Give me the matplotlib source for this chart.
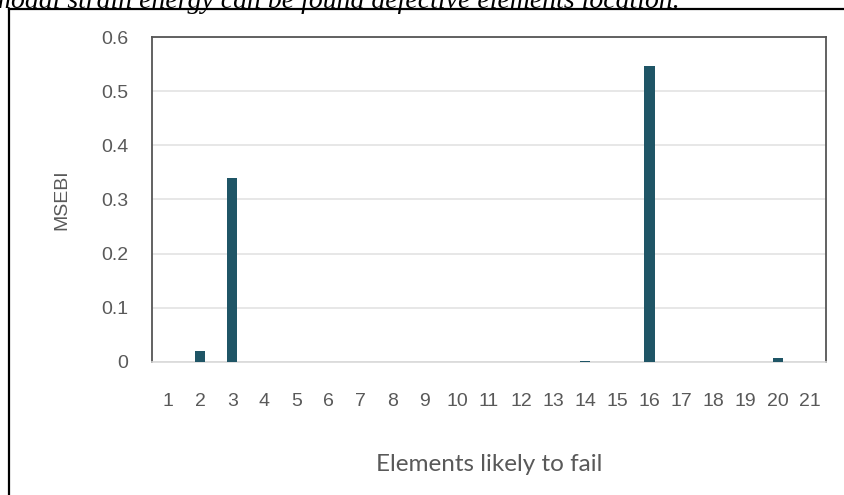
import matplotlib.pyplot as plt
from matplotlib.lines import Line2D

# element numbers and MSEBI values
elements = list(range(1, 22))
msebi = [0, 0.021, 0.340, 0, 0, 0, 0, 0, 0, 0, 0, 0, 0, 0.002, 0, 0.546, 0, 0, 0, 0.007, 0]
y_ticks = [0, 0.1, 0.2, 0.3, 0.4, 0.5, 0.6]
y_tick_labels = ["0", "0.1", "0.2", "0.3", "0.4", "0.5", "0.6"]

bar_color = "#1f5566"
text_gray = "#595959"

W, H = 845, 495
fig = plt.figure(figsize=(W / 100, H / 100), dpi=100)
ax = fig.add_axes([152 / W, 1 - 362 / H, 674 / W, 325 / H])

ax.bar(elements, msebi, width=0.32, color=bar_color, zorder=3)

ax.set_xlim(0.5, 21.5)
ax.set_ylim(0, 0.6)
ax.set_xticks(elements)
ax.set_xticklabels([str(e) for e in elements])
ax.set_yticks(y_ticks)
ax.set_yticklabels(y_tick_labels)

ax.tick_params(axis="both", length=0, labelsize=14, colors=text_gray)
ax.tick_params(axis="x", pad=22)
ax.tick_params(axis="y", pad=17)
for lab in ax.get_xticklabels() + ax.get_yticklabels():
    lab.set_family("Liberation Sans")

ax.grid(axis="y", color="#e3e3e3", linewidth=1.2, zorder=0)
for side in ["left", "top", "right"]:
    ax.spines[side].set_color("#555555")
    ax.spines[side].set_linewidth(1.3)
ax.spines["bottom"].set_color("#d9d9d9")
ax.spines["bottom"].set_linewidth(1.2)

ax.set_ylabel("MSEBI", fontsize=14, color=text_gray, family="Liberation Sans", labelpad=22)
ax.set_xlabel("Elements likely to fail", fontsize=17.5, color=text_gray, family="Lato", labelpad=32)

# outer black frame of the figure image (only top and left edges show)
fig.lines.append(Line2D([9 / W, 1.02], [1 - 9 / H, 1 - 9 / H], transform=fig.transFigure,
                        color="black", linewidth=1.6))
fig.lines.append(Line2D([9 / W, 9 / W], [1 - 9 / H, -0.02], transform=fig.transFigure,
                        color="black", linewidth=1.6))

# clipped caption text from the page above the chart
fig.text(680 / W, 1 - 8 / H, "modal strain energy can be found defective elements location.",
         fontsize=20, style="italic", family="Liberation Serif", va="baseline", ha="right")

fig.savefig("out.png", dpi=100)
